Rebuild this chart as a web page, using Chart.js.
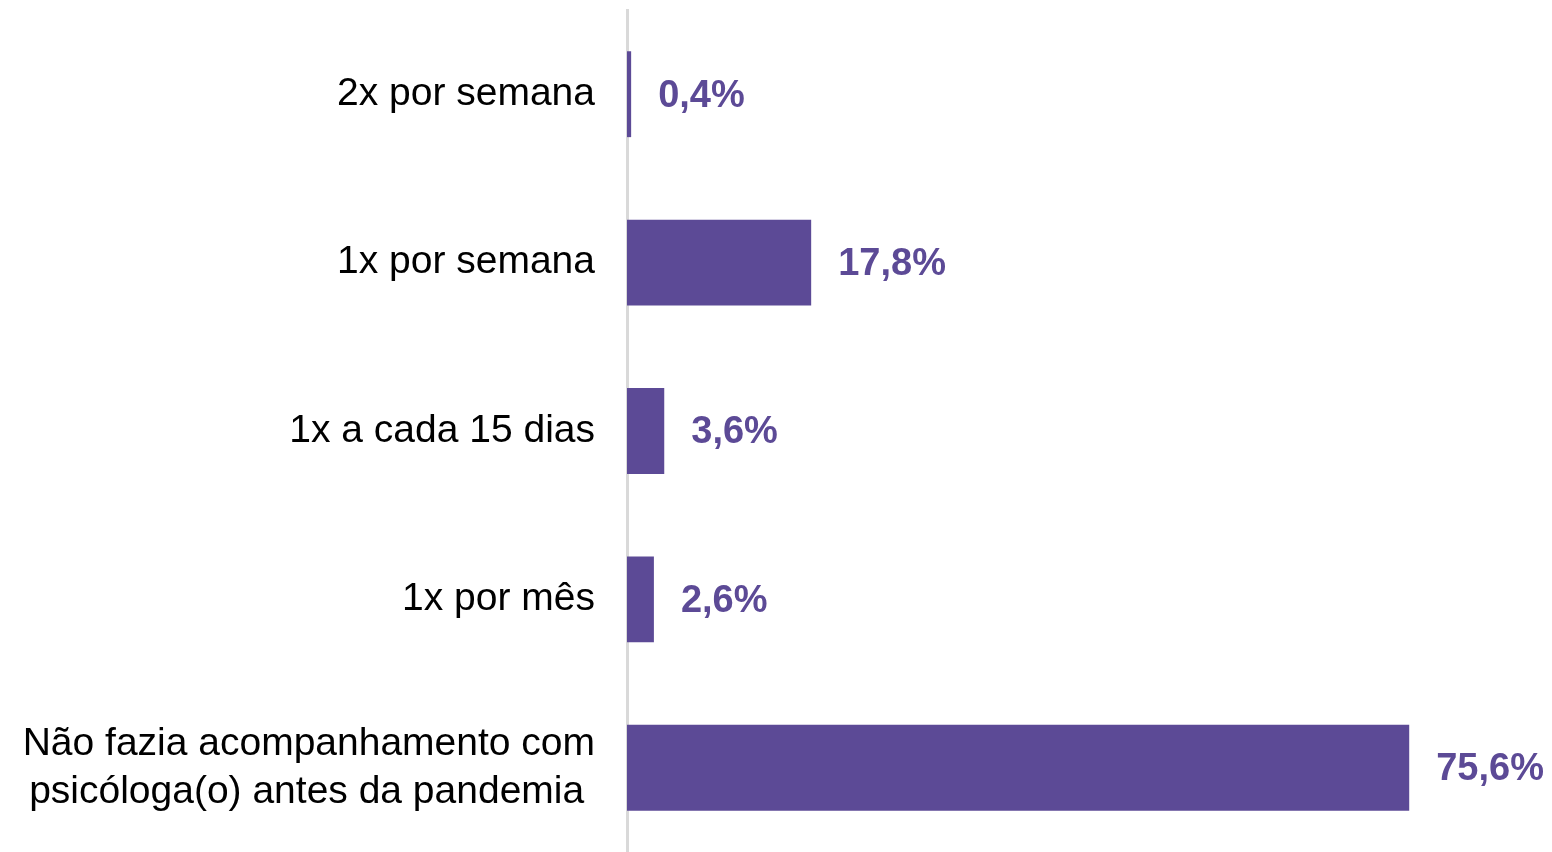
<!DOCTYPE html>
<html>
<head>
<meta charset="utf-8">
<script src="https://cdn.jsdelivr.net/npm/chart.js@4/dist/chart.umd.min.js"></script>
<style>
  html, body { margin: 0; padding: 0; background: #fff; }
  #wrap { width: 1552px; height: 852px; }
</style>
</head>
<body>
<div id="wrap"><canvas id="freqChart"></canvas></div>
<script>
const categories = [
  '2x por semana',
  '1x por semana',
  '1x a cada 15 dias',
  '1x por mês',
  ['Não fazia acompanhamento com', 'psicóloga(o) antes da pandemia ']
]
const percentages = [0.4, 17.8, 3.6, 2.6, 75.6]
const valueLabels = ['0,4%', '17,8%', '3,6%', '2,6%', '75,6%']

const purple = '#5C4A96'

// writes the percentage next to each bar
const barValues = {
  id: 'barValues',
  afterDatasetsDraw (chart) {
    const { ctx } = chart
    const meta = chart.getDatasetMeta(0)
    ctx.save()
    ctx.font = 'bold 38px "Liberation Sans", Arial, sans-serif'
    ctx.fillStyle = purple
    ctx.textAlign = 'left'
    ctx.textBaseline = 'middle'
    meta.data.forEach((bar, i) => {
      ctx.fillText(valueLabels[i], bar.x + 27, bar.y + 2)
    })
    ctx.restore()
  }
}

const config = {
  type: 'bar',
  data: {
    labels: categories,
    datasets: [{
      data: percentages,
      backgroundColor: purple,
      borderWidth: 0,
      categoryPercentage: 1,
      barPercentage: 0.51
    }]
  },
  options: {
    indexAxis: 'y',
    responsive: true,
    maintainAspectRatio: false,
    animation: false,
    layout: { padding: { top: 10, bottom: 0, left: 0, right: 0 } },
    plugins: {
      legend: { display: false },
      tooltip: { enabled: false }
    },
    scales: {
      x: {
        display: false,
        min: 0,
        max: 89.4
      },
      y: {
        afterFit (scale) {
          scale.width = 627
          scale.paddingTop = 0
          scale.paddingBottom = 0
        },
        grid: { display: false, drawTicks: false },
        border: { display: true, color: '#d9d9d9', width: 3 },
        ticks: {
          padding: 32,
          color: '#000',
          font: { family: '"Liberation Sans", Arial, sans-serif', size: 39, lineHeight: 1.23 }
        }
      }
    }
  },
  plugins: [barValues]
}

new Chart(document.getElementById('freqChart'), config) // eslint-disable-line
</script>
</body>
</html>
